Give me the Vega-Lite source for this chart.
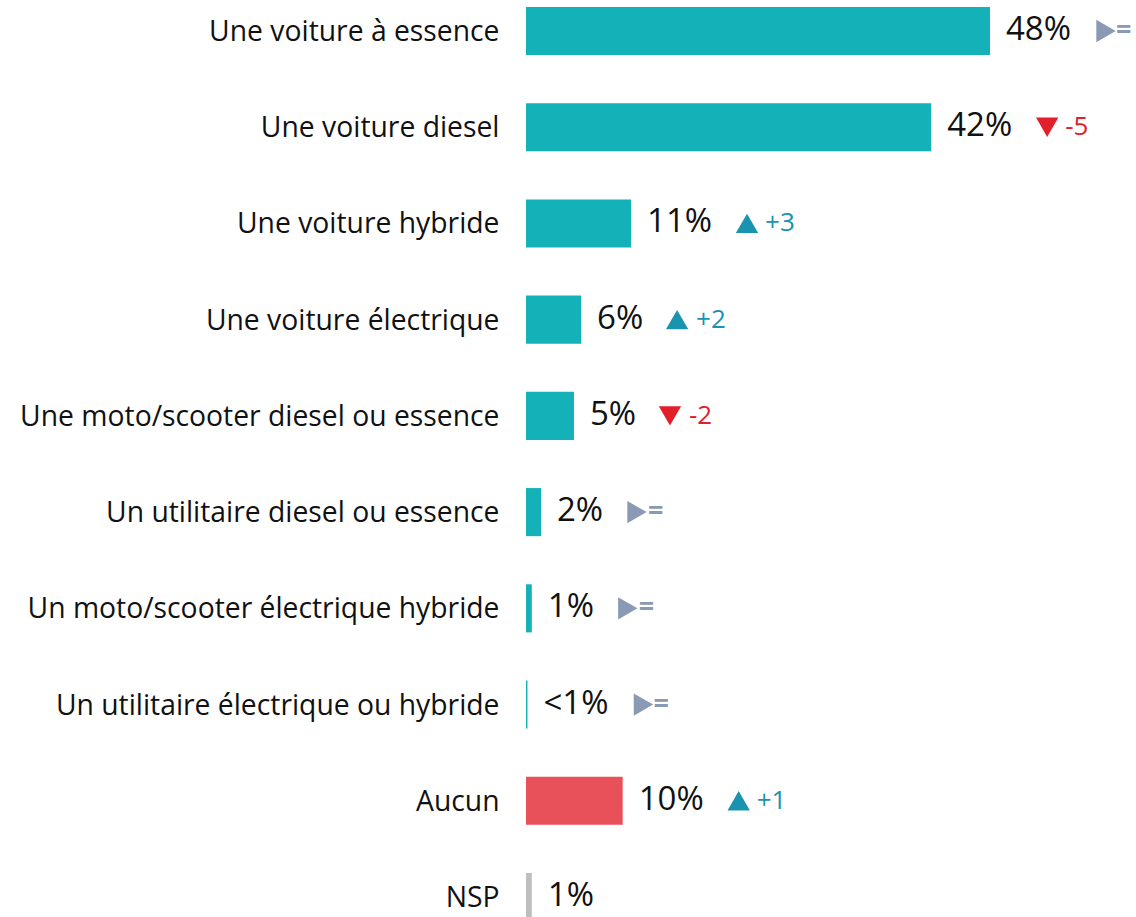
{
  "$schema": "https://vega.github.io/schema/vega-lite/v6.json",
  "autosize": {"type": "none"},
  "padding": {"left": 526, "top": 0, "right": 0, "bottom": 0},
  "width": 610,
  "height": 928,
  "background": "white",
  "config": {"view": {"stroke": null}},
  "data": {"values": [
    {"cat": "Une voiture à essence", "v": 47.98, "label": "48%", "dir": "eq", "delta": "=", "grp": "main"},
    {"cat": "Une voiture diesel", "v": 41.9, "label": "42%", "dir": "down", "delta": "-5", "grp": "main"},
    {"cat": "Une voiture hybride", "v": 10.86, "label": "11%", "dir": "up", "delta": "+3", "grp": "main"},
    {"cat": "Une voiture électrique", "v": 5.7, "label": "6%", "dir": "up", "delta": "+2", "grp": "main"},
    {"cat": "Une moto/scooter diesel ou essence", "v": 4.96, "label": "5%", "dir": "down", "delta": "-2", "grp": "main"},
    {"cat": "Un utilitaire diesel ou essence", "v": 1.55, "label": "2%", "dir": "eq", "delta": "=", "grp": "main"},
    {"cat": "Un moto/scooter électrique hybride", "v": 0.6, "label": "1%", "dir": "eq", "delta": "=", "grp": "main"},
    {"cat": "Un utilitaire électrique ou hybride", "v": 0.15, "label": "<1%", "dir": "eq", "delta": "=", "grp": "main"},
    {"cat": "Aucun", "v": 10.0, "label": "10%", "dir": "up", "delta": "+1", "grp": "aucun"},
    {"cat": "NSP", "v": 0.6, "label": "1%", "dir": null, "delta": null, "grp": "nsp"}
  ]},
  "encoding": {
    "y": {
      "field": "cat", "type": "nominal", "sort": null,
      "scale": {"paddingInner": 0.5, "paddingOuter": 0.072},
      "axis": {"title": null, "domain": false, "ticks": false, "labelFont": "Open Sans", "labelFontSize": 28.3, "labelColor": "#111111", "labelPadding": 27, "labelLimit": 0, "labelOffset": 2}
    },
    "x": {"field": "v", "type": "quantitative", "scale": {"domain": [0, 63.08], "nice": false, "zero": true}, "axis": null}
  },
  "layer": [
    {
      "mark": {"type": "bar"},
      "encoding": {
        "color": {"field": "grp", "type": "nominal", "legend": null,
          "scale": {"domain": ["main", "aucun", "nsp", "up", "down", "eq"], "range": ["#14B1B8", "#E8505A", "#BEBEBE", "#1A93B0", "#E2202B", "#8A9AB5"]}}
      }
    },
    {
      "mark": {"type": "text", "align": "left", "baseline": "middle", "dx": 16, "dy": -1, "font": "Open Sans", "fontSize": 33, "color": "#111111"},
      "encoding": {"text": {"field": "label"}}
    },
    {
      "transform": [{"filter": "datum.dir != null && length(datum.label) == 3"}],
      "mark": {"type": "point", "filled": true, "opacity": 1, "size": 500, "xOffset": 116},
      "encoding": {
        "shape": {"field": "dir", "type": "nominal", "legend": null, "scale": {"domain": ["up", "down", "eq"], "range": ["triangle-up", "triangle-down", "triangle-right"]}},
        "color": {"field": "dir", "type": "nominal", "legend": null}
      }
    },
    {
      "transform": [{"filter": "datum.dir != null && length(datum.label) == 2"}],
      "mark": {"type": "point", "filled": true, "opacity": 1, "size": 500, "xOffset": 96},
      "encoding": {
        "shape": {"field": "dir", "type": "nominal", "legend": null},
        "color": {"field": "dir", "type": "nominal", "legend": null}
      }
    },
    {
      "transform": [{"filter": "datum.dir != null && datum.dir != 'eq' && length(datum.label) == 3"}],
      "mark": {"type": "text", "align": "left", "baseline": "middle", "dx": 134, "font": "Open Sans", "fontSize": 26},
      "encoding": {
        "text": {"field": "delta"},
        "color": {"field": "dir", "type": "nominal", "legend": null}
      }
    },
    {
      "transform": [{"filter": "datum.dir != null && datum.dir != 'eq' && length(datum.label) == 2"}],
      "mark": {"type": "text", "align": "left", "baseline": "middle", "dx": 115, "font": "Open Sans", "fontSize": 26},
      "encoding": {
        "text": {"field": "delta"},
        "color": {"field": "dir", "type": "nominal", "legend": null}
      }
    },
    {
      "transform": [{"filter": "datum.dir == 'eq' && length(datum.label) == 3"}],
      "mark": {"type": "text", "align": "left", "baseline": "middle", "dx": 126, "font": "Open Sans", "fontSize": 27, "fontWeight": "bold"},
      "encoding": {
        "text": {"field": "delta"},
        "color": {"field": "dir", "type": "nominal", "legend": null}
      }
    },
    {
      "transform": [{"filter": "datum.dir == 'eq' && length(datum.label) == 2"}],
      "mark": {"type": "text", "align": "left", "baseline": "middle", "dx": 107, "font": "Open Sans", "fontSize": 27, "fontWeight": "bold"},
      "encoding": {
        "text": {"field": "delta"},
        "color": {"field": "dir", "type": "nominal", "legend": null}
      }
    }
  ]
}
